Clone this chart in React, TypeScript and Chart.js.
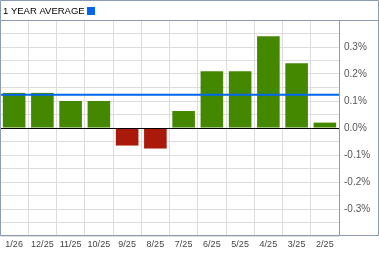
import React, { useEffect, useRef } from "react";
import { Chart, registerables } from "chart.js";

Chart.register(...registerables);

const categories = ["1/26", "12/25", "11/25", "10/25", "9/25", "8/25", "7/25", "6/25", "5/25", "4/25", "3/25", "2/25"];
const values = [0.13, 0.13, 0.10, 0.10, -0.065, -0.076, 0.063, 0.21, 0.21, 0.34, 0.24, 0.02];
const average = 0.123;
const titleText = "1 YEAR AVERAGE";
const yMin = -0.4;
const yMax = 0.4;

const GREEN = "#448800";
const RED = "#aa1a0a";
const BLUE = "#0066ee";
const BORDER = "#8a9bb5";
const GRID = "#dddddd";
const FONT = "'Liberation Sans', Arial, sans-serif";

export default function App() {
  const ref = useRef<HTMLCanvasElement | null>(null);

  useEffect(() => {
    document.body.style.margin = "0";
    const canvas = ref.current;
    if (!canvas) return;

    const framePlugin = {
      id: "frame",
      afterDatasetsDraw(chart: any) {
        const { ctx, chartArea, scales } = chart;
        const y = scales.y;
        ctx.save();
        // zero line
        const y0 = Math.round(y.getPixelForValue(0)) + 0.5;
        ctx.strokeStyle = "#000000";
        ctx.lineWidth = 1;
        ctx.beginPath();
        ctx.moveTo(chartArea.left, y0);
        ctx.lineTo(chartArea.right, y0);
        ctx.stroke();
        // average line
        const ya = y.getPixelForValue(average);
        ctx.strokeStyle = BLUE;
        ctx.lineWidth = 2;
        ctx.beginPath();
        ctx.moveTo(chartArea.left, ya);
        ctx.lineTo(chartArea.right, ya);
        ctx.stroke();
        ctx.restore();
      },
      afterDraw(chart: any) {
        const { ctx, chartArea, width } = chart;
        ctx.save();
        ctx.strokeStyle = BORDER;
        ctx.lineWidth = 1;
        const bottom = Math.round(chartArea.bottom) - 0.5;
        const top = Math.round(chartArea.top) + 0.5;
        const right = Math.round(chartArea.right) + 0.5;
        ctx.beginPath();
        ctx.rect(0.5, 0.5, width - 1, bottom - 0.5);
        ctx.moveTo(0, top);
        ctx.lineTo(width, top);
        ctx.moveTo(right, top);
        ctx.lineTo(right, bottom);
        ctx.stroke();
        // title
        ctx.fillStyle = "#000000";
        ctx.font = "9.5px " + FONT;
        ctx.textBaseline = "alphabetic";
        ctx.textAlign = "left";
        ctx.fillText(titleText, 3, 14);
        ctx.fillStyle = BLUE;
        ctx.fillRect(87, 7, 8, 8);
        ctx.restore();
      },
    };

    const chart = new Chart(canvas, {
      type: "bar",
      data: {
        labels: categories,
        datasets: [
          {
            data: values,
            backgroundColor: values.map((v) => (v >= 0 ? GREEN : RED)),
            borderWidth: 0,
            barPercentage: 0.8,
            categoryPercentage: 1,
          },
        ],
      },
      options: {
        responsive: false,
        animation: false,
        layout: { padding: { top: 20, left: 0, right: 0, bottom: 0 } },
        plugins: {
          legend: { display: false },
          title: { display: false },
          tooltip: { enabled: false },
        },
        scales: {
          x: {
            grid: { color: GRID, offset: true, drawTicks: false },
            border: { display: false },
            ticks: {
              color: "#444444",
              font: { family: FONT, size: 9 },
              padding: 3,
              maxRotation: 0,
              autoSkip: false,
            },
            afterFit(scale: any) {
              scale.height = 19;
            },
          },
          y: {
            position: "right",
            min: yMin,
            max: yMax,
            grid: {
              color: (c: any) => (c.tick && Math.abs(c.tick.value) < 1e-9 ? "rgba(0,0,0,0)" : GRID),
              drawTicks: false,
            },
            border: { display: false },
            ticks: {
              stepSize: 0.05,
              color: "#555555",
              font: { family: FONT, size: 10 },
              padding: 5,
              autoSkip: false,
              callback: (v: any) => {
                const n = Math.round(Number(v) * 100);
                if (n % 10 !== 0 || Math.abs(n) >= 40) return "";
                const val = n / 100;
                return (Math.abs(val) < 1e-9 ? 0 : val).toFixed(1) + "%";
              },
            },
            afterFit(scale: any) {
              scale.width = 40;
            },
          },
        },
      },
      plugins: [framePlugin],
    });

    return () => chart.destroy();
  }, []);

  return (
    <div style={{ width: 379, height: 255 }}>
      <canvas ref={ref} width={379} height={255} style={{ display: "block", width: 379, height: 255 }} />
    </div>
  );
}
